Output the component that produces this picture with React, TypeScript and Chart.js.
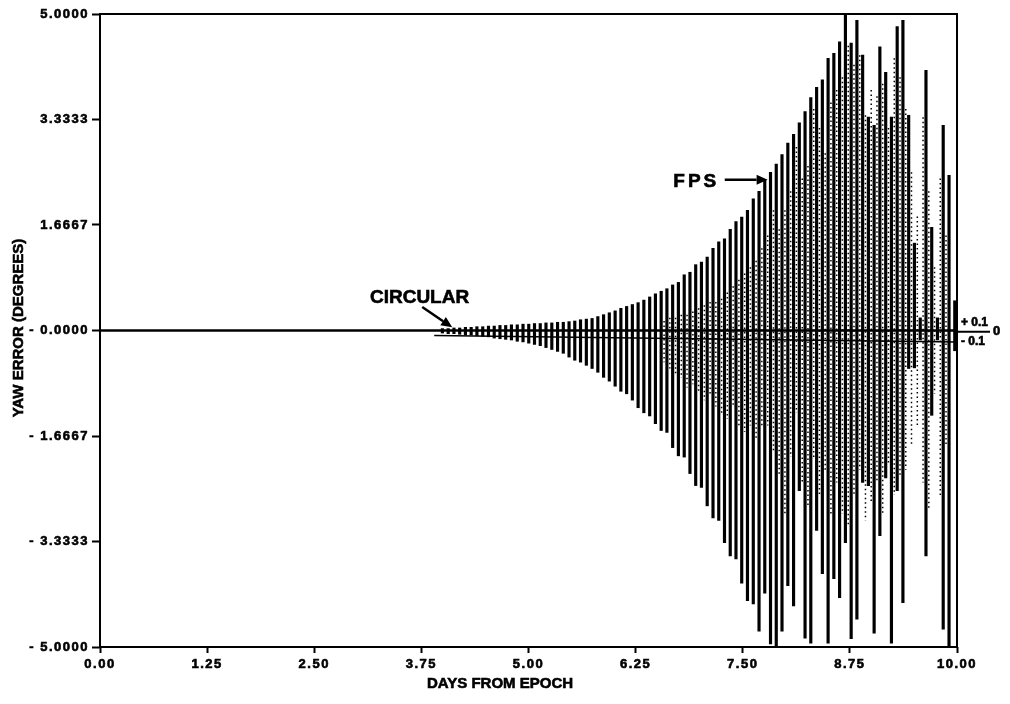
import React, { useEffect, useRef } from "react";
import { Chart, registerables } from "chart.js";

Chart.register(...registerables);

// ---- Data ----
const spikeDays = [
  3.995, 4.063, 4.130, 4.197, 4.264, 4.331, 4.398, 4.466, 4.533, 4.600,
  4.667, 4.734, 4.801, 4.869, 4.936, 5.003, 5.070, 5.137, 5.204, 5.272,
  5.339, 5.406, 5.473, 5.540, 5.607, 5.675, 5.742, 5.809, 5.876, 5.943,
  6.011, 6.078, 6.145, 6.212, 6.279, 6.346, 6.414, 6.481, 6.548, 6.615,
  6.682, 6.749, 6.817, 6.884, 6.951, 7.018, 7.085, 7.153, 7.220, 7.287,
  7.354, 7.421, 7.488, 7.555, 7.623, 7.690, 7.757, 7.824, 7.891, 7.958,
  8.026, 8.093, 8.160, 8.227, 8.294, 8.362, 8.429, 8.496, 8.563, 8.630,
  8.698, 8.765, 8.832, 8.899, 8.966, 9.033, 9.100, 9.168, 9.235, 9.302,
  9.369, 9.436, 9.503, 9.571, 9.638, 9.705, 9.772, 9.839, 9.907, 9.974,
];
const spikeHigh = [
  0.03, 0.03, 0.04, 0.04, 0.05, 0.05, 0.06, 0.06, 0.07, 0.07,
  0.08, 0.08, 0.09, 0.09, 0.10, 0.10, 0.11, 0.11, 0.12, 0.12,
  0.13, 0.13, 0.14, 0.15, 0.17, 0.18, 0.19, 0.22, 0.25, 0.28,
  0.31, 0.35, 0.38, 0.41, 0.44, 0.48, 0.53, 0.58, 0.62, 0.66,
  0.72, 0.76, 0.88, 0.92, 1.04, 1.08, 1.16, 1.30, 1.40, 1.45,
  1.60, 1.72, 1.79, 1.90, 2.08, 2.20, 2.38, 2.50, 2.63, 2.78,
  2.96, 3.10, 3.28, 3.46, 3.68, 3.84, 3.96, 4.30, 4.38, 4.56,
  5.00, 4.54, 4.90, 4.35, 3.37, 3.24, 4.48, 4.08, 3.37, 4.80,
  4.90, 3.40, 1.38, 0.20, 4.11, 1.63, 0.20, 3.24, 2.45, 0.47,
];
const spikeLow = [
  -0.04, -0.05, -0.05, -0.06, -0.07, -0.07, -0.08, -0.09, -0.10, -0.12,
  -0.13, -0.14, -0.15, -0.17, -0.18, -0.20, -0.22, -0.24, -0.27, -0.30,
  -0.33, -0.36, -0.42, -0.47, -0.50, -0.55, -0.60, -0.66, -0.74, -0.80,
  -0.88, -0.96, -1.00, -1.10, -1.22, -1.30, -1.35, -1.47, -1.58, -1.61,
  -1.85, -1.98, -2.00, -2.26, -2.45, -2.48, -2.77, -2.96, -3.00, -3.35,
  -3.56, -3.61, -3.99, -4.27, -4.32, -4.75, -4.15, -4.95, -5.00, -4.75,
  -4.03, -4.35, -2.53, -4.86, -4.94, -3.16, -3.84, -4.94, -3.92, -4.22,
  -3.35, -4.87, -4.56, -2.40, -2.45, -4.78, -3.24, -2.33, -4.94, -2.53,
  -4.30, -0.60, -0.59, -0.15, -3.56, -1.34, -0.15, -4.72, -4.98, -0.32,
];

const dottedDays = [
  6.582, 6.649, 6.716, 6.783, 6.850, 6.918, 6.985, 7.052, 7.119, 7.186,
  7.253, 7.320, 7.388, 7.455, 7.522, 7.589, 7.656, 7.723, 7.791, 7.858,
  7.925, 7.992, 8.059, 8.126, 8.194, 8.261, 8.328, 8.395, 8.462, 8.529,
  8.596, 8.663, 8.731, 8.798, 8.865, 8.932, 8.999, 9.066, 9.133, 9.200,
  9.268, 9.335, 9.402, 9.469, 9.537, 9.604, 9.671, 9.738, 9.805, 9.872,
];
const dottedHigh = [
  0.15, 0.20, 0.20, 0.25, 0.25, 0.30, 0.35, 0.40, 0.45, 0.45,
  0.50, 0.60, 0.70, 0.80, 0.90, 1.00, 1.10, 1.30, 1.50, 1.90,
  1.60, 1.90, 2.20, 2.90, 2.40, 2.60, 3.50, 3.20, 2.80, 3.60,
  3.80, 4.00, 4.50, 4.20, 4.35, 3.40, 3.80, 3.70, 3.90, 3.20,
  4.30, 4.00, 3.50, 2.50, 1.80, 3.37, 2.20, 1.00, 2.40, 1.50,
];
const dottedLow = [
  -0.50, -0.60, -0.70, -0.75, -0.90, -0.85, -1.00, -1.10, -1.00, -1.20,
  -1.30, -1.40, -1.20, -1.50, -1.60, -1.50, -1.70, -1.50, -1.50, -1.90,
  -2.30, -2.90, -2.00, -1.30, -2.40, -2.80, -2.00, -2.60, -2.20, -2.90,
  -2.40, -2.90, -3.10, -2.60, -2.20, -3.00, -2.70, -2.40, -2.90, -2.10,
  -2.60, -2.30, -2.20, -1.80, -1.50, -2.40, -2.80, -1.00, -2.60, -1.80,
];

const circularDays = [0, 10];
const circularYaw = [0, 0];
const bandDays = [3.9, 10];
const bandYaw = [-0.08, -0.18];

const xTickValues = [0, 1.25, 2.5, 3.75, 5, 6.25, 7.5, 8.75, 10];
const xTickLabels = ["0.00", "1.25", "2.50", "3.75", "5.00", "6.25", "7.50", "8.75", "10.00"];
const yTickValues = [-5, -3.3333, -1.6667, 0, 1.6667, 3.3333, 5];
const yTickLabels = ["- 5.0000", "- 3.3333", "- 1.6667", "- 0.0000", "1.6667", "3.3333", "5.0000"];

const bandLabels = ["+ 0.1", "0", "- 0.1"];
const bandLabelYaw = [0.12, -0.02, -0.17];

const FONT = "'Liberation Sans', Arial, Helvetica, sans-serif";

function arrow(ctx: CanvasRenderingContext2D, x1: number, y1: number, x2: number, y2: number) {
  const ang = Math.atan2(y2 - y1, x2 - x1);
  const head = 11;
  const hw = 5;
  const bx = x2 - head * Math.cos(ang);
  const by = y2 - head * Math.sin(ang);
  ctx.beginPath();
  ctx.moveTo(x1, y1);
  ctx.lineTo(bx, by);
  ctx.lineWidth = 2.5;
  ctx.stroke();
  ctx.beginPath();
  ctx.moveTo(x2, y2);
  ctx.lineTo(bx + hw * Math.sin(ang), by - hw * Math.cos(ang));
  ctx.lineTo(bx - hw * Math.sin(ang), by + hw * Math.cos(ang));
  ctx.closePath();
  ctx.fill();
}

function heavyText(ctx: CanvasRenderingContext2D, t: string, x: number, y: number) {
  ctx.fillText(t, x, y);
  ctx.lineWidth = 0.6;
  ctx.strokeText(t, x, y);
}

const decorPlugin = {
  id: "decor",
  beforeDraw(chart: any) {
    const ctx = chart.ctx as CanvasRenderingContext2D;
    ctx.save();
    ctx.fillStyle = "#fff";
    ctx.fillRect(0, 0, chart.width, chart.height);
    ctx.restore();
    (ctx as any).letterSpacing = "1.5px";
  },
  afterDraw(chart: any) {
    const ctx = chart.ctx as CanvasRenderingContext2D;
    const a = chart.chartArea;
    const xs = chart.scales.x;
    const ys = chart.scales.y;
    ctx.save();
    (ctx as any).letterSpacing = "0px";
    ctx.strokeStyle = "#000";
    ctx.fillStyle = "#000";
    ctx.lineWidth = 2;
    ctx.strokeRect(a.left, a.top, a.right - a.left, a.bottom - a.top);

    // axis titles
    ctx.font = `bold 15px ${FONT}`;
    ctx.textAlign = "center";
    ctx.textBaseline = "middle";
    heavyText(ctx, "DAYS FROM EPOCH", 500, 684);
    ctx.save();
    ctx.translate(19, 328);
    ctx.rotate(-Math.PI / 2);
    heavyText(ctx, "YAW ERROR (DEGREES)", 0, 0);
    ctx.restore();

    // band labels on the right
    ctx.font = `bold 12px ${FONT}`;
    ctx.textAlign = "left";
    heavyText(ctx, bandLabels[0], a.right + 4, ys.getPixelForValue(bandLabelYaw[0]));
    heavyText(ctx, bandLabels[2], a.right + 4, ys.getPixelForValue(bandLabelYaw[2]));
    const zy = ys.getPixelForValue(bandLabelYaw[1]);
    ctx.font = `bold 13px ${FONT}`;
    heavyText(ctx, bandLabels[1], a.right + 36, zy);
    ctx.lineWidth = 2;
    ctx.beginPath();
    ctx.moveTo(a.right, zy);
    ctx.lineTo(a.right + 33, zy);
    ctx.stroke();

    // annotations
    ctx.font = `bold 19px ${FONT}`;
    ctx.textBaseline = "alphabetic";
    ctx.textAlign = "left";
    heavyText(ctx, "CIRCULAR", xs.getPixelForValue(3.15), ys.getPixelForValue(0.43));
    arrow(ctx, xs.getPixelForValue(3.76), ys.getPixelForValue(0.37), xs.getPixelForValue(4.11), ys.getPixelForValue(0.05));
    (ctx as any).letterSpacing = "3px";
    heavyText(ctx, "FPS", xs.getPixelForValue(6.69), ys.getPixelForValue(2.27));
    (ctx as any).letterSpacing = "0px";
    arrow(ctx, xs.getPixelForValue(7.29), ys.getPixelForValue(2.38), xs.getPixelForValue(7.79), ys.getPixelForValue(2.38));
    ctx.restore();
  },
};

export default function App() {
  const ref = useRef<HTMLCanvasElement | null>(null);
  useEffect(() => {
    if (!ref.current) return;
    Chart.defaults.font.family = FONT;
    const dotted: any[] = [];
    dottedDays.forEach((d, i) => {
      dotted.push({ x: d, y: dottedHigh[i] });
      dotted.push({ x: d, y: dottedLow[i] });
      dotted.push({ x: d, y: null });
    });
    const chart = new Chart(ref.current, {
      type: "bar",
      data: {
        datasets: [
          {
            type: "bar",
            label: "FPS",
            data: spikeDays.map((d, i) => ({ x: d, y: [spikeLow[i], spikeHigh[i]] })) as any,
            backgroundColor: "#000",
            borderWidth: 0,
            barThickness: 2.5,
            order: 2,
          } as any,
          {
            type: "line",
            label: "FPS samples",
            data: dotted,
            borderColor: "#000",
            borderWidth: 1.5,
            borderDash: [1.5, 3],
            pointRadius: 0,
            spanGaps: false,
            order: 3,
          } as any,
          {
            type: "line",
            label: "CIRCULAR",
            data: circularDays.map((d, i) => ({ x: d, y: circularYaw[i] })),
            borderColor: "#000",
            borderWidth: 2.5,
            pointRadius: 0,
            order: 1,
          } as any,
          {
            type: "line",
            label: "band",
            data: bandDays.map((d, i) => ({ x: d, y: bandYaw[i] })),
            borderColor: "#000",
            borderWidth: 1.5,
            pointRadius: 0,
            order: 1,
          } as any,
        ],
      },
      options: {
        animation: false,
        responsive: false,
        devicePixelRatio: 1,
        layout: { padding: { left: 0, right: 53, top: 14, bottom: 0 } },
        plugins: { legend: { display: false }, tooltip: { enabled: false } },
        scales: {
          x: {
            type: "linear",
            min: 0,
            max: 10,
            offset: false,
            afterBuildTicks: (axis: any) => {
              axis.ticks = xTickValues.map((v) => ({ value: v }));
            },
            afterFit: (scale: any) => {
              scale.height = 57;
            },
            ticks: {
              autoSkip: false,
              maxRotation: 0,
              padding: 4,
              color: "#000",
              textStrokeColor: "#000",
              textStrokeWidth: 0.6,
              font: { size: 13, weight: "bold" },
              callback: (_v: any, i: number) => xTickLabels[i],
            },
            grid: {
              offset: false,
              drawOnChartArea: false,
              drawTicks: true,
              tickLength: 6,
              tickWidth: 2,
              tickColor: "#000",
            },
            border: { display: false },
          },
          y: {
            type: "linear",
            min: -5,
            max: 5,
            afterBuildTicks: (axis: any) => {
              axis.ticks = yTickValues.map((v) => ({ value: v }));
            },
            afterFit: (scale: any) => {
              scale.width = 100;
            },
            ticks: {
              autoSkip: false,
              padding: 3,
              color: "#000",
              textStrokeColor: "#000",
              textStrokeWidth: 0.6,
              font: { size: 13, weight: "bold" },
              callback: (_v: any, i: number) => yTickLabels[i],
            },
            grid: {
              drawOnChartArea: false,
              drawTicks: true,
              tickLength: 8,
              tickWidth: 2,
              tickColor: "#000",
            },
            border: { display: false },
          },
        },
      } as any,
      plugins: [decorPlugin],
    });
    return () => chart.destroy();
  }, []);
  return (
    <div style={{ position: "absolute", left: 0, top: 0, width: 1010, height: 704, background: "#fff" }}>
      <canvas ref={ref} width={1010} height={704} />
    </div>
  );
}
